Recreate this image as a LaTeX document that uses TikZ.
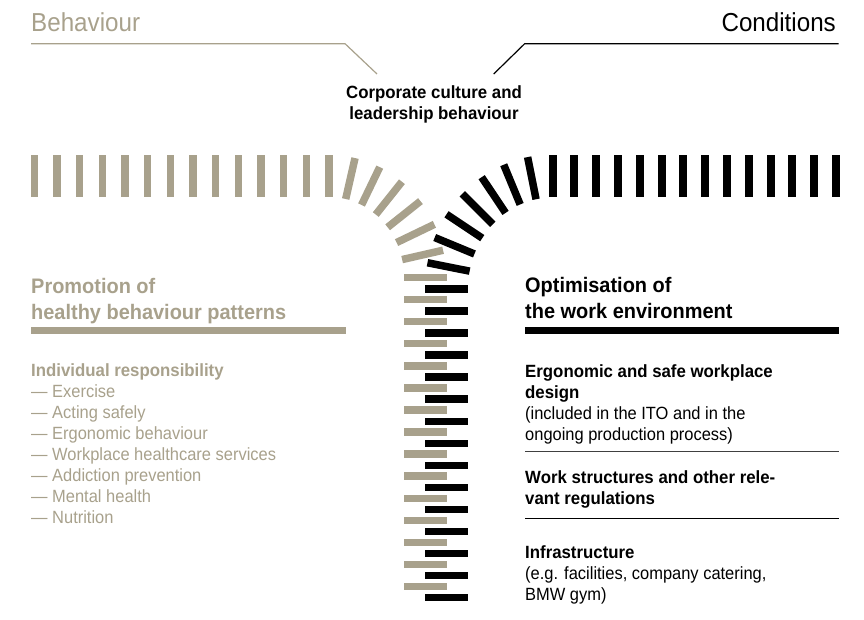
\documentclass[tikz,border=0pt]{standalone}
\usepackage{fontspec}
\setmainfont[FakeStretch=0.93,BoldFeatures={FakeStretch=0.95}]{Liberation Sans}
\usetikzlibrary{calc}

\definecolor{bgray}{RGB}{168,161,140}

\tikzset{
	txt/.style={inner sep=0pt,align=left,anchor=base west},
	bigfont/.style={font=\fontsize{26}{30}\selectfont},
	headfont/.style={font=\fontsize{21}{26}\selectfont\bfseries},
	bodyfont/.style={font=\fontsize{17.7}{21}\selectfont},
	graybar/.style={fill=bgray},
	blackbar/.style={fill=black},
	leader/.style={line width=1.2pt,line join=miter}
}

\begin{document}
\begin{tikzpicture}[x=1pt,y=1pt]
			\useasboundingbox (0,0) rectangle (864,620);
			% titles and leader lines (base = last line)
			\node[txt,bigfont,text=bgray] (behav) at (31,588) {Behaviour};
			\node[txt,bigfont,anchor=base east] (cond) at (836,588) {Conditions};
			\node[txt,bodyfont,align=center,anchor=base] (culture) at (434,500.7) {\textbf{Corporate culture and}\\\textbf{leadership behaviour}};
			\path
			(345,576.3) coordinate (gk)
			(377,546) coordinate (ge)
			(838.7,576.3) coordinate (bs)
			(524.7,576.3) coordinate (bk)
			(493.7,546) coordinate (be)
			;
			\draw[leader,bgray] ([yshift=-11.7pt]behav.base west) -- (gk) -- (ge);
			\draw[leader] (bs) -- (bk) -- (be);
			% behaviour band
			\foreach \k in {0,...,13} \fill[graybar] ({34.3+22.67*\k-3.75},423) rectangle +(7.5,42);
			\foreach \i in {1,...,6} {
				\pgfmathsetmacro\a{90-\i*90/7}
				\fill[graybar,shift={({329+96*cos(\a)},{342.5+101.5*sin(\a)})},rotate=\a] (-21,-3.75) rectangle (21,3.75);
			}
			\foreach \k in {0,...,14} \fill[graybar] (403.5,{342.5-22.08*\k-3.75}) rectangle +(43,7.5);
			% conditions band
			\foreach \k in {0,...,13} \fill[blackbar] ({552.5+21.8*\k-4},423) rectangle +(8,42);
			\foreach \i in {1,...,7} {
				\pgfmathsetmacro\a{90+\i*11.25}
				\fill[blackbar,shift={({552.5+106*cos(\a)},{331+113*sin(\a)})},rotate=\a] (-21.5,-3.75) rectangle (21.5,3.75);
			}
			\foreach \k in {0,...,14} \fill[blackbar] (425,{331-22.05*\k-3.75}) rectangle +(43,7.5);
			% left column
			\node[txt,headfont,text=bgray] (promo) at (31,300.7) {Promotion of\\healthy behaviour patterns};
			\fill[bgray] (31,285.7) rectangle (345.7,292.7);
			\node[txt,bodyfont,text=bgray] (indiv) at (31,96) {\textbf{Individual responsibility}\\— Exercise\\— Acting safely\\— Ergonomic behaviour\\— Workplace healthcare services\\— Addiction prevention\\— Mental health\\— Nutrition};
			% right column
			\node[txt,headfont] (optim) at (525,301) {Optimisation of\\the work environment};
			\fill (525,285.7) rectangle (839.3,292.7);
			\node[txt,bodyfont] (ergo) at (525,179.3) {\textbf{Ergonomic and safe workplace}\\\textbf{design}\\(included in the ITO and in the\\ongoing production process)};
			\draw[line width=0.8pt,black!75] (525,168.3) -- (839,168.3);
			\node[txt,bodyfont] (work) at (525,115) {\textbf{Work structures and other rele-}\\\textbf{vant regulations}};
			\draw[line width=0.8pt] (525,101.7) -- (839,101.7);
			\node[txt,bodyfont] (infra) at (525,19.3) {\textbf{Infrastructure}\\(e.g. facilities, company catering,\\BMW gym)};
		\end{tikzpicture}
\end{document}
